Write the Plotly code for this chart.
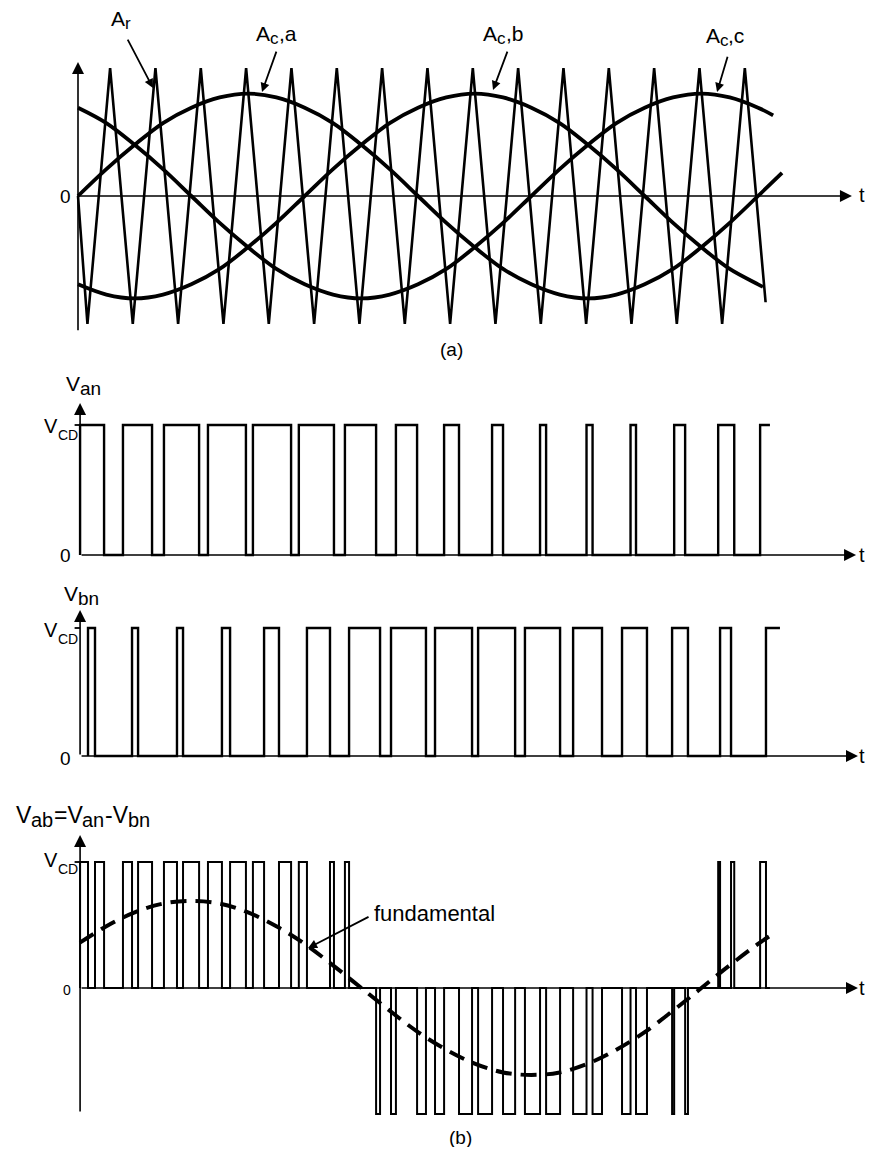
import plotly.graph_objects as go

# ---------------- data (x in degrees of the fundamental) ----------------
# (a) triangular carrier A_r : vertices
carrier_t = [0, 5, 17, 29, 41, 53, 65, 77, 89, 101, 113, 125, 137, 149, 161, 173,
             185, 197, 209, 221, 233, 245, 257, 269, 281, 293, 305, 317, 329, 341, 353, 364]
carrier_v = [0, -1, 1, -1, 1, -1, 1, -1, 1, -1, 1, -1, 1, -1, 1, -1,
             1, -1, 1, -1, 1, -1, 1, -1, 1, -1, 1, -1, 1, -1, 1, -0.83]

# control sinusoids read every 15 degrees
ang = [0, 15, 30, 45, 60, 75, 90, 105, 120, 135, 150, 165, 180, 195, 210, 225, 240,
       255, 270, 285, 300, 315, 330, 345, 360]
ctrl_a = [0, 0.21, 0.40, 0.57, 0.69, 0.77, 0.80, 0.77, 0.69, 0.57, 0.40, 0.21, 0,
          -0.21, -0.40, -0.57, -0.69, -0.77, -0.80, -0.77, -0.69, -0.57, -0.40, -0.21, 0]
ctrl_b = [-0.69, -0.77, -0.80, -0.77, -0.69, -0.57, -0.40, -0.21, 0, 0.21, 0.40, 0.57, 0.69,
          0.77, 0.80, 0.77, 0.69, 0.57, 0.40, 0.21, 0, -0.21, -0.40, -0.57, -0.69]
ctrl_c = [0.69, 0.57, 0.40, 0.21, 0, -0.21, -0.40, -0.57, -0.69, -0.77, -0.80, -0.77, -0.69,
          -0.57, -0.40, -0.21, 0, 0.21, 0.40, 0.57, 0.69, 0.77, 0.80, 0.77, 0.69]
end_a, end_a_v = 372.7, 0.18
end_b, end_b_v = 362.6, -0.71
end_c, end_c_v = 368.0, 0.63

# (b) switching instants (rising / falling), last "off" is the end of the drawn trace
van_on = [1.1, 23.8, 45.5, 68.8, 92.6, 116.9, 141.3, 168.3, 193.8, 219.2, 244.6, 269.2,
          292.5, 315.6, 338.9, 361.1]
van_off = [13.8, 39.2, 64.1, 88.9, 112.8, 135.5, 157.8, 179.5, 201.7, 225.0, 247.8, 272.4,
           295.4, 321.4, 347.4, 366.3]
vbn_on = [5.3, 28.6, 52.4, 76.2, 98.5, 121.2, 143.5, 165.7, 189.0, 211.8, 236.6, 262.1,
          288.0, 314.5, 339.9, 364.2]
vbn_off = [9.0, 31.8, 55.6, 80.5, 106.4, 133.4, 159.9, 184.2, 208.6, 231.4, 255.2, 277.4,
           301.2, 322.9, 345.7, 371.6]

# fundamental of V_ab
fund_t = [1, 15, 30, 45, 60, 75, 90, 105, 120, 135, 150, 165, 180, 195, 210, 225, 240,
          255, 270, 285, 300, 315, 330, 345, 360, 368]
fund_v = [0.36, 0.49, 0.60, 0.67, 0.69, 0.67, 0.60, 0.49, 0.35, 0.18, 0, -0.18, -0.35,
          -0.49, -0.60, -0.67, -0.69, -0.67, -0.60, -0.49, -0.35, -0.18, 0, 0.18, 0.35, 0.43]

FONT = "Liberation Sans, Arial, Helvetica, sans-serif"
BLK = "black"
# advance widths (em) of the glyphs used in composite labels
ADV = {"V": 0.667, "A": 0.667, "a": 0.556, "b": 0.556, "n": 0.556, "c": 0.5, "r": 0.333,
       "C": 0.722, "D": 0.722, "=": 0.584, "-": 0.333, ",": 0.278}


def step_path(on, off):
    xs, ys = [on[0]], [0]
    for i, (a, b) in enumerate(zip(on, off)):
        xs += [a, a, b]
        ys += [0, 1, 1]
        if i < len(on) - 1:
            xs.append(b)
            ys.append(0)
    return xs, ys


def level(on, off, t):
    return 1 if any(a <= t < b for a, b in zip(on, off)) else 0


def vab_path():
    t0, t1 = van_on[0], van_off[-1]
    ev = sorted(set([t for t in van_on + van_off + vbn_on + vbn_off if t0 < t < t1]))
    pts = [t0] + ev + [t1]
    xs, ys = [t0], [0]
    for a, b in zip(pts[:-1], pts[1:]):
        m = 0.5 * (a + b)
        v = level(van_on, van_off, m) - level(vbn_on, vbn_off, m)
        xs += [a, b]
        ys += [v, v]
    return xs, ys


fig = go.Figure()

# ---- panel (a)
fig.add_trace(go.Scatter(x=carrier_t, y=carrier_v, mode="lines",
                         line=dict(color=BLK, width=2.6), xaxis="x", yaxis="y"))
for yy, ex, ev in [(ctrl_a, end_a, end_a_v), (ctrl_b, end_b, end_b_v), (ctrl_c, end_c, end_c_v)]:
    fig.add_trace(go.Scatter(x=ang + [ex], y=yy + [ev], mode="lines",
                             line=dict(color=BLK, width=3.8, shape="spline", smoothing=1.0),
                             xaxis="x", yaxis="y"))

# ---- V_an
xs, ys = step_path(van_on, van_off)
fig.add_trace(go.Scatter(x=xs, y=ys, mode="lines", line=dict(color=BLK, width=2.4),
                         xaxis="x", yaxis="y2"))
# ---- V_bn
xs, ys = step_path(vbn_on, vbn_off)
fig.add_trace(go.Scatter(x=xs, y=ys, mode="lines", line=dict(color=BLK, width=2.4),
                         xaxis="x", yaxis="y3"))
# ---- V_ab
xs, ys = vab_path()
fig.add_trace(go.Scatter(x=xs, y=ys, mode="lines", line=dict(color=BLK, width=2.0),
                         xaxis="x", yaxis="y4"))
fig.add_trace(go.Scatter(x=fund_t, y=fund_v, mode="lines",
                         line=dict(color=BLK, width=4, dash="16px,9px", shape="spline"),
                         xaxis="x", yaxis="y4"))

# V_CD ticks
for ya in ["y2", "y3", "y4"]:
    fig.add_trace(go.Scatter(x=[-1.8, 1.1], y=[1, 1], mode="lines",
                             line=dict(color=BLK, width=1.8), xaxis="x", yaxis=ya))

ann = []


def arrow(x, y, ax, ay, yref, w=1.6, size=1.5, head=2):
    ann.append(dict(x=x, y=y, ax=ax, ay=ay, xref="x", yref=yref, axref="x", ayref=yref,
                    text="", showarrow=True, arrowhead=head, arrowsize=size,
                    arrowwidth=w, arrowcolor=BLK, standoff=0, startstandoff=0))


def label(x, y, text, yref, size=20, xanchor="center", yanchor="middle", xs=0, ys=0):
    ann.append(dict(x=x, y=y, xref="x", yref=yref, text=text, showarrow=False,
                    xanchor=xanchor, yanchor=yanchor, borderpad=0, xshift=xs, yshift=ys,
                    font=dict(family=FONT, size=size, color=BLK)))


def composite(x, y, yref, pieces):
    """pieces: (text, font size, downward shift px); laid out left to right."""
    off = 0.0
    for txt, sz, dn in pieces:
        label(x, y, txt, yref, sz, xanchor="left", xs=off, ys=-dn)
        off += sum(ADV[ch] for ch in txt) * sz


# axes (a)
arrow(409.7, 0, 0, 0, "y")
arrow(0, 1.047, 0, -1.06, "y")
label(-3.2, 0, "0", "y", 19, xanchor="right")
label(412.9, 0.01, "t", "y", 20, xanchor="left")
composite(16.9, 1.387, "y", [("A", 21, 0), ("r", 17, 5)])
arrow(39.7, 0.844, 25.9, 1.234, "y", w=1.8, size=1.0)
composite(93.7, 1.266, "y", [("A", 21, 0), ("c", 17, 5), (",a", 21, 0)])
arrow(97.4, 0.8125, 105.3, 1.14, "y", w=1.8, size=1.0)
composite(213.9, 1.27, "y", [("A", 21, 0), ("c", 17, 5), (",b", 21, 0)])
arrow(219.7, 0.828, 227.6, 1.14, "y", w=1.8, size=1.0)
composite(331.9, 1.254, "y", [("A", 21, 0), ("c", 17, 5), (",c", 21, 0)])
arrow(338.3, 0.8125, 344.1, 1.10, "y", w=1.8, size=1.0)
label(197.7, -1.203, "(a)", "y", 19)

# axes V_an
arrow(411.9, 0, 1.1, 0, "y2")
arrow(1.1, 1.17, 1.1, 0, "y2")
composite(-6.9, 1.319, "y2", [("V", 21, 0), ("an", 19, 5)])
composite(-18.3, 0.996, "y2", [("V", 20, 0), ("CD", 14, 9)])
label(-3.2, 0, "0", "y2", 19, xanchor="right")
label(417.0, 0.0, "t", "y2", 20, xanchor="right")

# axes V_bn
arrow(412.9, 0, 1.1, 0, "y3")
arrow(1.1, 1.14, 1.1, 0, "y3")
composite(-7.9, 1.273, "y3", [("V", 21, 0), ("bn", 19, 5)])
composite(-18.3, 0.984, "y3", [("V", 20, 0), ("CD", 14, 9)])
label(-3.2, -0.02, "0", "y3", 19, xanchor="right")
label(417.0, 0.0, "t", "y3", 20, xanchor="right")

# axes V_ab
arrow(412.9, 0, 1.1, 0, "y4")
arrow(1.1, 1.214, 1.1, -0.992, "y4")
composite(-33.35, 1.373, "y4", [("V", 23, 0), ("ab", 20, 5), ("=V", 23, 0), ("an", 20, 5),
                               ("-V", 23, 0), ("bn", 20, 5)])
composite(-18.3, 1.012, "y4", [("V", 20, 0), ("CD", 14, 9)])
label(-3.2, -0.016, "0", "y4", 14, xanchor="right")
label(417.0, 0.0, "t", "y4", 20, xanchor="right")
label(156.2, 0.595, "fundamental", "y4", 22, xanchor="left")
arrow(121.8, 0.317, 154.6, 0.571, "y4", w=1.8, size=1.0)
label(202.5, -1.19, "(b)", "y4", 19)

hidden = dict(visible=False, showgrid=False, zeroline=False, fixedrange=True)
fig.update_layout(
    width=859, height=1139, margin=dict(l=0, r=0, t=0, b=0),
    paper_bgcolor="white", plot_bgcolor="white", showlegend=False,
    xaxis=dict(domain=[0, 1], range=[-37.057, 417.68], **hidden),
    yaxis=dict(domain=[0, 1], range=[-7.4297, 1.46875], **hidden),
    yaxis2=dict(domain=[0, 1], range=[-4.5538, 4.2077], overlaying="y", **hidden),
    yaxis3=dict(domain=[0, 1], range=[-3.0547, 5.84375], overlaying="y", **hidden),
    yaxis4=dict(domain=[0, 1], range=[-1.2619, 7.7778], overlaying="y", **hidden),
    annotations=ann,
    font=dict(family=FONT, color=BLK),
)

fig.write_html("out.html")
